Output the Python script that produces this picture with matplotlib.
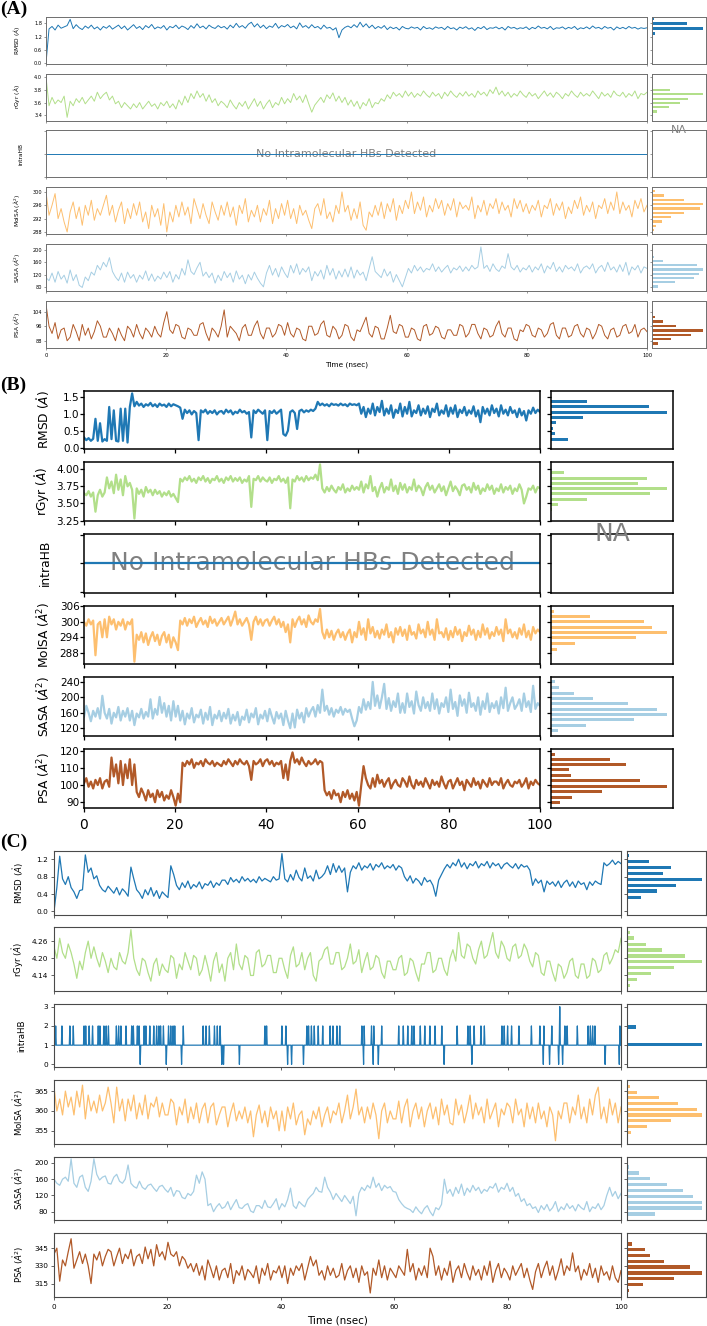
import matplotlib.pyplot as plt
import numpy as np

# ---------------- panel (A) ----------------
a_rmsd = [
    0.0, 1.55, 1.66, 1.5, 1.72, 1.58, 1.64, 1.7, 1.98, 1.56,
    1.74, 1.6, 1.52, 1.68, 1.58, 1.72, 1.55, 1.64, 1.5, 1.66,
    1.58, 1.7, 1.54, 1.63, 1.72, 1.56, 1.68, 1.5, 1.62, 1.74,
    1.57, 1.66, 1.52, 1.7, 1.6, 1.75, 1.55, 1.64, 1.58, 1.7,
    1.5, 1.66, 1.6, 1.72, 1.56, 1.68, 1.62, 1.52, 1.7, 1.58,
    1.78, 1.6, 1.68, 1.55, 1.72, 1.62, 1.57, 1.7, 1.6, 1.66,
    1.54, 1.72, 1.6, 1.8, 1.62, 1.7, 1.58, 1.76, 1.85, 1.64,
    1.78, 1.6, 1.72, 1.56, 1.68, 1.62, 1.8, 1.58, 1.7, 1.64,
    1.75, 1.6, 1.68, 1.55, 1.82, 1.62, 1.7, 1.58, 1.74, 1.6,
    1.66, 1.54, 1.72, 1.58, 1.62, 1.5, 1.6, 1.15, 1.5, 1.62,
    1.68, 1.6, 1.74, 1.62, 1.85, 1.64, 1.78, 1.6, 1.72, 1.56,
    1.66, 1.58, 1.7, 1.52, 1.64, 1.56, 1.62, 1.5, 1.66, 1.58,
    1.55, 1.64, 1.58, 1.62, 1.5, 1.66, 1.56, 1.6, 1.53, 1.64,
    1.58, 1.62, 1.52, 1.66, 1.56, 1.6, 1.5, 1.63, 1.57, 1.65,
    1.54, 1.6, 1.48, 1.62, 1.56, 1.66, 1.52, 1.6, 1.58, 1.64,
    1.55, 1.62, 1.5, 1.66, 1.58, 1.62, 1.54, 1.6, 1.57, 1.64,
    1.52, 1.62, 1.56, 1.68, 1.58, 1.62, 1.55, 1.66, 1.52, 1.6,
    1.58, 1.64, 1.54, 1.62, 1.57, 1.66, 1.52, 1.6, 1.56, 1.64,
    1.55, 1.68, 1.58, 1.62, 1.54, 1.66, 1.58, 1.62, 1.5, 1.64,
    1.56, 1.62, 1.55, 1.66, 1.58, 1.62, 1.54, 1.6, 1.57, 1.6,
]
a_rgyr = [
    4.0, 3.55, 3.68, 3.58, 3.64, 3.6, 3.7, 3.37, 3.62, 3.55,
    3.66, 3.6, 3.68, 3.58, 3.64, 3.7, 3.62, 3.76, 3.66, 3.72,
    3.76, 3.64, 3.7, 3.58, 3.62, 3.52, 3.6, 3.55, 3.5, 3.58,
    3.52, 3.6, 3.5, 3.56, 3.62, 3.54, 3.58, 3.5, 3.6, 3.55,
    3.62, 3.52, 3.58, 3.5, 3.64, 3.56, 3.7, 3.6, 3.74, 3.66,
    3.78, 3.68, 3.74, 3.62, 3.72, 3.6, 3.66, 3.55, 3.62, 3.58,
    3.52, 3.64, 3.56, 3.5, 3.6, 3.54, 3.62, 3.5, 3.58, 3.66,
    3.54, 3.62, 3.5, 3.58, 3.64, 3.52, 3.6, 3.56, 3.68, 3.58,
    3.66, 3.6, 3.74, 3.64, 3.7, 3.6, 3.72, 3.58, 3.45, 3.56,
    3.62, 3.68, 3.6, 3.72, 3.66, 3.75, 3.62, 3.7, 3.6, 3.68,
    3.56, 3.64, 3.54, 3.62, 3.5, 3.6, 3.55, 3.66, 3.52, 3.6,
    3.58, 3.66, 3.62, 3.72, 3.66, 3.76, 3.7, 3.74, 3.68, 3.78,
    3.7, 3.76, 3.68, 3.74, 3.7, 3.78, 3.72, 3.68, 3.76, 3.7,
    3.74, 3.66, 3.76, 3.7, 3.78, 3.72, 3.68, 3.75, 3.7, 3.77,
    3.7, 3.74, 3.68, 3.78, 3.72, 3.76, 3.7, 3.8, 3.74, 3.84,
    3.72, 3.78, 3.7, 3.76, 3.68, 3.74, 3.7, 3.78, 3.72, 3.68,
    3.76, 3.7, 3.74, 3.66, 3.72, 3.78, 3.7, 3.75, 3.68, 3.76,
    3.72, 3.66, 3.74, 3.7, 3.78, 3.72, 3.68, 3.76, 3.7, 3.74,
    3.7, 3.78, 3.72, 3.66, 3.76, 3.7, 3.74, 3.68, 3.78, 3.72,
    3.7, 3.76, 3.68, 3.74, 3.7, 3.78, 3.66, 3.74, 3.72, 3.76,
]
a_intrahb = [0, 0]
a_molsa = [
    300, 293, 296, 299.5, 292, 295, 291, 288, 294, 297,
    292, 295.5, 290, 296, 293, 297.5, 291.5, 295, 293, 296,
    299, 293, 296, 291, 294.5, 297, 290.5, 295, 292, 296.5,
    293, 297, 291, 294, 289, 296, 292.5, 295, 290, 296.5,
    288, 294, 291, 296, 292.5, 297, 293, 295.5, 290.5, 298,
    295, 292, 296.5, 293, 290.5, 297, 294, 291.5, 296, 293,
    297, 292.5, 295.5, 290, 296, 293.5, 298, 291, 294.5, 292.5,
    296, 291, 295, 293, 297.5, 290.5, 295, 292, 296.5, 293,
    297.5, 292, 295, 290.5, 296, 293, 294.5, 291.5, 289, 295,
    296.5, 293, 298, 292, 294, 291, 296, 293.5, 300, 294,
    296, 291.5, 295, 292, 297, 290, 288.5, 294, 292.5, 296,
    293, 297, 292, 296.5, 294, 298, 291.5, 296, 293.5, 297.5,
    295, 300, 293.5, 297, 294.5, 298.5, 292.5, 296, 294, 298,
    295, 297.5, 293, 296.5, 294.5, 298, 292.5, 297, 295, 296,
    294.5, 298.5, 292, 296, 294, 297.5, 293, 296.5, 295, 298,
    293.5, 297, 294.5, 296, 292.5, 298, 295, 297.5, 294, 296.5,
    293.5, 296, 294.5, 297.5, 292.5, 296, 295, 298, 293, 296.5,
    294.5, 297, 292, 295.5, 293.5, 297.5, 295, 298.5, 293, 296,
    294, 297, 292, 296, 295, 298, 293.5, 297, 294.5, 300,
    293.5, 297, 294.5, 296, 292.5, 297.5, 295, 298, 294, 296,
]
a_sasa = [
    110, 100, 125, 95, 130, 105, 118, 92, 135, 100,
    120, 85, 78, 112, 100, 128, 118, 150, 135, 160,
    145, 175, 130, 112, 100, 125, 95, 128, 108, 120,
    95, 118, 105, 132, 100, 122, 98, 115, 105, 128,
    110, 130, 95, 120, 105, 140, 118, 168, 130, 120,
    142, 160, 115, 128, 110, 125, 92, 118, 100, 130,
    110, 125, 95, 132, 105, 118, 90, 120, 102, 128,
    108, 92, 80, 125, 150, 118, 140, 112, 145, 125,
    110, 150, 125, 155, 120, 140, 128, 145, 100, 130,
    115, 135, 105, 150, 118, 140, 105, 132, 112, 138,
    112, 145, 108, 135, 118, 128, 100, 140, 178, 130,
    120, 110, 138, 115, 130, 95, 120, 100, 80, 110,
    140, 125, 150, 132, 145, 128, 140, 135, 155, 130,
    145, 128, 140, 150, 125, 142, 135, 148, 130, 145,
    132, 150, 138, 145, 210, 140, 150, 130, 155, 138,
    130, 148, 140, 188, 145, 135, 150, 128, 142, 135,
    150, 128, 145, 135, 155, 125, 148, 138, 160, 130,
    145, 128, 150, 138, 145, 132, 155, 125, 142, 148,
    138, 155, 125, 142, 150, 130, 160, 135, 145, 128,
    152, 130, 160, 118, 145, 135, 150, 125, 145, 140,
]
a_psa = [
    108, 96, 92, 98, 89, 94, 95, 88, 90, 97,
    93, 88, 97, 91, 95, 89, 93, 99, 96, 90,
    90, 95, 92, 88, 95, 91, 88, 96, 94, 90,
    97, 92, 89, 95, 93, 90, 96, 92, 90, 98,
    104, 94, 92, 97, 96, 90, 89, 95, 94, 91,
    91, 97, 98, 92, 88, 95, 93, 90, 96, 105,
    90, 96, 94, 92, 88, 95, 97, 91, 91, 96,
    99, 92, 89, 95, 95, 90, 92, 97, 96, 91,
    98, 92, 90, 95, 94, 89, 88, 96, 96, 91,
    92, 97, 99, 91, 90, 96, 94, 89, 91, 97,
    96, 90, 88, 94, 93, 97, 101, 92, 90, 96,
    95, 89, 89, 95, 102, 93, 92, 97, 96, 90,
    90, 95, 94, 89, 88, 96, 97, 91, 92, 96,
    95, 90, 89, 94, 94, 91, 91, 97, 96, 90,
    92, 97, 97, 92, 89, 95, 94, 90, 91, 96,
    99, 92, 90, 95, 95, 89, 88, 94, 93, 97,
    96, 91, 90, 95, 94, 90, 92, 97, 98, 91,
    89, 95, 95, 90, 91, 96, 97, 92, 90, 95,
    94, 89, 92, 97, 96, 91, 89, 94, 95, 90,
    91, 96, 97, 92, 93, 97, 90, 94, 95, 93,
]
a_rmsd_bins = [1.33, 1.56, 1.79, 2.0]
a_rmsd_counts = [8, 155, 105, 5]
a_rgyr_bins = [3.46, 3.526, 3.592, 3.657, 3.728, 3.793]
a_rgyr_counts = [15, 50, 85, 110, 155, 55]
a_molsa_bins = [288.5, 289.8, 291.1, 292.4, 293.7, 295.0, 296.3, 297.6, 298.9, 300.2]
a_molsa_counts = [5, 13, 30, 57, 95, 145, 155, 97, 37, 10]
a_sasa_bins = [81.1, 94.9, 108.7, 122.5, 136.3, 150.1, 163.9, 177.7]
a_sasa_counts = [18, 69, 127, 143, 155, 137, 33, 5]
a_psa_bins = [86.5, 88.9, 91.3, 93.7, 96.1, 98.5, 101.1, 103.6]
a_psa_counts = [17, 57, 117, 155, 73, 33, 10, 3]

# ---------------- panel (B) ----------------
b_rmsd = [
    0.3, 0.22, 0.28, 0.2, 0.26, 0.85, 0.2, 0.72, 0.18, 0.25,
    0.2, 1.2, 0.25, 1.1, 0.2, 0.18, 1.15, 0.2, 1.15, 0.15,
    1.2, 1.6, 1.22, 1.35, 1.24, 1.3, 1.2, 1.28, 1.24, 1.32,
    1.22, 1.28, 1.2, 1.3, 1.24, 1.27, 1.2, 1.3, 1.22, 1.28,
    1.25, 1.22, 1.18, 0.85, 1.12, 1.02, 1.1, 0.98, 1.08, 1.02,
    0.22, 1.1, 1.04, 1.12, 1.0, 1.08, 1.02, 1.1, 0.98, 1.06,
    1.08, 1.0, 1.12, 1.04, 1.1, 0.98, 1.06, 1.02, 1.12, 1.04,
    1.08, 1.0, 1.05, 0.3, 1.1, 1.02, 1.12, 1.06, 1.0, 1.1,
    0.22, 1.08, 1.02, 1.1, 1.0, 1.06, 1.12, 0.4, 0.35, 0.5,
    1.05, 1.1, 1.02, 0.55, 1.08, 1.12, 1.04, 1.1, 1.06, 1.12,
    1.08, 1.15, 1.35, 1.25, 1.3, 1.24, 1.28, 1.22, 1.3, 1.26,
    1.28, 1.24, 1.3, 1.25, 1.28, 1.22, 1.3, 1.26, 1.28, 1.25,
    1.3, 1.0, 1.2, 0.9, 1.15, 1.0, 1.3, 0.95, 1.2, 1.05,
    1.38, 0.95, 1.15, 1.0, 1.25, 0.88, 1.12, 1.02, 1.3, 0.92,
    1.2, 1.0, 1.35, 0.92, 1.1, 1.02, 1.25, 0.95, 1.15, 1.0,
    1.22, 0.9, 1.15, 1.05, 1.3, 0.95, 1.1, 1.0, 1.25, 0.92,
    1.18, 1.0, 1.25, 0.9, 1.12, 1.02, 1.2, 0.95, 1.1, 1.0,
    1.22, 0.92, 1.1, 0.75, 1.2, 1.0, 1.15, 0.95, 1.25, 1.02,
    1.15, 0.92, 1.25, 1.0, 1.12, 0.95, 1.2, 1.02, 1.1, 0.9,
    1.15, 0.95, 1.08, 0.8, 1.1, 1.0, 1.18, 1.02, 1.12, 1.05,
]
b_rgyr = [
    3.65, 3.62, 3.68, 3.6, 3.66, 3.38, 3.62, 3.7, 3.6, 3.66,
    3.88, 3.72, 3.82, 3.65, 3.92, 3.7, 3.85, 3.62, 3.9, 3.75,
    3.8, 3.7, 3.28, 3.72, 3.64, 3.7, 3.6, 3.74, 3.66, 3.7,
    3.62, 3.7, 3.64, 3.68, 3.6, 3.66, 3.62, 3.68, 3.6, 3.64,
    3.58, 3.52, 3.86, 3.82, 3.88, 3.84, 3.9, 3.82, 3.86, 3.8,
    3.88, 3.84, 3.9, 3.82, 3.87, 3.8, 3.86, 3.84, 3.9, 3.82,
    3.86, 3.8, 3.88, 3.84, 3.9, 3.82, 3.87, 3.83, 3.88, 3.8,
    3.85, 3.82, 3.9, 3.45, 3.86, 3.84, 3.9, 3.82, 3.88, 3.84,
    3.82, 3.88, 3.8, 3.86, 3.84, 3.9, 3.82, 3.86, 3.8, 3.88,
    3.43, 3.85, 3.82, 3.9, 3.84, 3.88, 3.82, 3.9, 3.84, 3.88,
    3.86, 3.92, 3.84, 4.07, 3.72, 3.66, 3.74, 3.68, 3.76, 3.7,
    3.66, 3.74, 3.7, 3.78, 3.66, 3.72, 3.68, 3.76, 3.7, 3.74,
    3.7, 3.82, 3.66, 3.78, 3.72, 3.9, 3.68, 3.74, 3.6, 3.72,
    3.8, 3.66, 3.74, 3.7, 3.85, 3.68, 3.76, 3.64, 3.8, 3.7,
    3.78, 3.66, 3.74, 3.7, 3.85, 3.68, 3.76, 3.72, 3.62, 3.74,
    3.8, 3.7, 3.76, 3.66, 3.72, 3.78, 3.68, 3.75, 3.62, 3.72,
    3.82, 3.68, 3.75, 3.7, 3.62, 3.76, 3.78, 3.7, 3.74, 3.66,
    3.8, 3.7, 3.76, 3.64, 3.72, 3.68, 3.78, 3.7, 3.76, 3.64,
    3.72, 3.68, 3.78, 3.66, 3.74, 3.7, 3.76, 3.64, 3.72, 3.68,
    3.78, 3.7, 3.5, 3.6, 3.72, 3.7, 3.76, 3.66, 3.74, 3.72,
]
b_intrahb = [0, 0]
b_molsa = [
    300, 298.5, 301, 299, 300.5, 287, 299, 300, 294, 301,
    294, 302, 299, 301, 297, 300, 298.5, 301, 297, 300,
    299, 301, 284.5, 295, 293, 296, 292, 295.5, 291, 294,
    296, 292.5, 295, 291, 294.5, 296, 292, 295, 290, 294,
    292, 289, 300.5, 299, 301.5, 298.5, 301, 299.5, 302, 298,
    300, 301.5, 299, 300.5, 298, 302, 299.5, 301, 298.5, 300,
    301.5, 299, 300.5, 302, 298.5, 301, 304, 299, 301, 298.5,
    300, 301.5, 299, 293, 300, 302, 299, 301, 298.5, 300.5,
    301, 298.5, 300.5, 302, 299, 301, 298, 300, 296, 299,
    292, 301, 298, 300.5, 302, 299, 301, 298, 302.5, 300,
    299, 301, 300, 305, 296, 293.5, 297, 294, 296.5, 293,
    295.5, 297, 294, 296, 293, 295.5, 297, 292, 296, 294,
    300, 295, 297.5, 293, 301, 295.5, 298, 294, 296.5, 293.5,
    297, 295, 299, 294, 296, 292, 297.5, 295, 298, 294.5,
    297, 293, 298.5, 295, 296, 293.5, 299, 295.5, 297, 294,
    300, 295, 297, 293, 301, 295.5, 296, 294, 297.5, 293,
    296.5, 294, 298, 295, 297, 292.5, 296, 294.5, 298.5, 295,
    297, 293, 296.5, 294, 299, 295, 297.5, 293.5, 296, 294.5,
    298, 295, 297, 292.5, 301, 295.5, 297, 294, 296, 293.5,
    297.5, 295, 299, 294, 296.5, 293, 298, 295.5, 297, 296,
]
b_sasa = [
    150, 178, 160, 138, 165, 150, 172, 145, 204, 160,
    145, 170, 132, 160, 148, 175, 140, 165, 150, 172,
    140, 165, 128, 158, 148, 170, 145, 162, 150, 195,
    145, 170, 155, 201, 160, 185, 150, 178, 140, 190,
    150, 178, 140, 165, 130, 158, 145, 172, 135, 155,
    148, 168, 132, 160, 142, 175, 128, 155, 145, 165,
    138, 160, 145, 170, 132, 155, 140, 162, 128, 150,
    142, 168, 135, 158, 148, 172, 130, 155, 145, 165,
    138, 170, 150, 132, 162, 145, 158, 128, 165, 140,
    120, 158, 122, 168, 145, 160, 135, 172, 150, 165,
    175, 150, 180, 160, 220, 165, 178, 155, 172, 150,
    168, 160, 175, 155, 170, 162, 168, 145, 125, 140,
    175, 160, 195, 168, 188, 170, 240, 178, 205, 172,
    200, 235, 170, 198, 165, 190, 175, 210, 160, 185,
    160, 210, 175, 190, 158, 215, 180, 165, 200, 172,
    188, 165, 210, 170, 195, 158, 185, 175, 200, 162,
    220, 170, 188, 152, 205, 178, 195, 160, 212, 175,
    185, 165, 200, 155, 190, 170, 210, 162, 185, 172,
    190, 158, 200, 172, 225, 165, 185, 200, 170, 180,
    195, 165, 210, 175, 190, 162, 230, 170, 185, 178,
]
b_psa = [
    101, 104, 99, 102, 98, 103, 100, 104, 98, 102,
    103, 99, 116, 105, 112, 101, 114, 100, 112, 104,
    115, 100, 112, 96, 93, 98, 95, 91, 97, 93,
    95, 90, 97, 93, 96, 91, 94, 92, 97, 93,
    88, 95, 90, 113, 111, 114, 112, 115, 110, 113,
    112, 114, 111, 115, 113, 112, 114, 111, 113, 112,
    111, 114, 112, 115, 113, 111, 114, 112, 115, 113,
    112, 114, 111, 103, 114, 112, 113, 115, 111, 114,
    115, 112, 114, 111, 113, 112, 114, 104, 112, 103,
    114, 119, 113, 115, 112, 116, 113, 111, 114, 112,
    113, 115, 112, 114, 113, 97, 94, 96, 92, 97,
    94, 95, 90, 96, 93, 97, 92, 95, 91, 96,
    88, 100, 111, 104, 100, 98, 104, 99, 106, 101,
    103, 99, 102, 104, 98, 101, 103, 100, 99, 104,
    102, 99, 105, 100, 98, 103, 100, 102, 99, 104,
    101, 98, 103, 100, 102, 99, 105, 101, 98, 102,
    103, 98, 101, 104, 100, 102, 97, 103, 101, 99,
    104, 100, 102, 98, 103, 101, 99, 104, 100, 102,
    102, 100, 104, 98, 101, 103, 100, 99, 102, 101,
    103, 99, 101, 104, 98, 102, 100, 103, 101, 100,
]
b_rmsd_bins = [0.247, 0.415, 0.572, 0.73, 0.888, 1.046, 1.224, 1.372]
b_rmsd_counts = [51, 13, 6, 16, 97, 349, 293, 108]
b_rgyr_bins = [3.407, 3.483, 3.563, 3.639, 3.715, 3.791, 3.867, 3.948]
b_rgyr_counts = [2, 20, 108, 296, 349, 261, 288, 40]
b_molsa_bins = [289.4, 291.6, 293.8, 295.85, 297.9, 299.96, 302.0, 304.07]
b_molsa_counts = [18, 71, 255, 349, 304, 278, 118, 10]
b_sasa_bins = [113.1, 127.7, 142.3, 156.0, 169.7, 183.4, 197.1, 210.9, 225.4, 240.0]
b_sasa_counts = [21, 106, 249, 349, 317, 231, 126, 70, 25, 13]
b_psa_bins = [89.6, 92.7, 96.1, 99.2, 102.4, 105.7, 108.8, 112.0, 115.1, 118.0]
b_psa_counts = [26, 62, 153, 349, 267, 61, 54, 224, 176, 13]

# ---------------- panel (C) ----------------
c_rmsd = [
    0.0, 0.55, 1.27, 0.75, 0.62, 0.8, 0.55, 0.45, 0.3, 0.48,
    0.5, 1.3, 0.9, 1.0, 0.75, 0.82, 0.6, 0.5, 0.45, 0.58,
    0.5, 0.42, 0.55, 0.38, 0.52, 0.45, 0.35, 1.02, 0.75, 0.5,
    0.42, 0.3, 0.5, 0.38, 0.55, 0.35, 0.48, 0.3, 0.45, 0.38,
    0.32, 1.05, 0.85, 0.6, 0.5, 0.66, 0.55, 0.7, 0.52, 0.62,
    0.56, 0.68, 0.52, 0.64, 0.6, 0.7, 0.55, 0.66, 0.6, 0.72,
    0.72, 0.62, 0.78, 0.68, 0.74, 0.66, 0.8, 0.7, 0.76, 0.68,
    0.74, 0.66, 0.8, 0.7, 0.76, 0.72, 0.68, 0.8, 0.72, 0.75,
    1.33, 0.75, 0.68, 0.85, 0.72, 0.95, 0.78, 0.7, 1.0, 0.76,
    0.82, 0.7, 0.95, 0.75, 0.8, 0.88, 1.05, 0.85, 1.1, 0.9,
    1.05, 0.9, 1.0, 0.45, 0.9, 1.05, 0.98, 1.12, 0.95, 1.05,
    1.0, 1.1, 0.95, 1.08, 1.02, 1.12, 0.98, 1.05, 1.0, 1.08,
    0.95, 1.05, 1.0, 0.8, 0.7, 0.82, 0.65, 0.76, 0.7, 0.6,
    0.78, 0.68, 0.72, 0.6, 0.35, 0.72, 0.85, 0.98, 1.08, 1.0,
    1.12, 1.05, 1.2, 1.02, 1.12, 0.98, 1.1, 1.05, 1.15, 1.0,
    1.1, 1.05, 1.15, 1.0, 1.12, 1.05, 1.1, 0.98, 1.08, 1.12,
    1.05, 1.0, 1.1, 0.98, 1.08, 1.02, 1.05, 0.95, 0.6, 0.75,
    0.65, 0.72, 0.45, 0.7, 0.62, 0.68, 0.58, 0.7, 0.55, 0.66,
    0.72, 0.58, 0.68, 0.55, 0.7, 0.62, 0.66, 0.5, 0.68, 0.6,
    0.7, 0.65, 0.62, 1.12, 1.05, 1.1, 1.18, 1.08, 1.15, 1.1,
]
c_rgyr = [
    4.24, 4.2, 4.27, 4.22, 4.2, 4.25, 4.22, 4.18, 4.13, 4.19,
    4.16, 4.22, 4.26, 4.2, 4.24, 4.2, 4.17, 4.22, 4.19, 4.15,
    4.2, 4.17, 4.16, 4.22, 4.19, 4.18, 4.22, 4.3, 4.2, 4.16,
    4.14, 4.2, 4.19, 4.15, 4.12, 4.18, 4.2, 4.14, 4.18, 4.16,
    4.15, 4.21, 4.2, 4.13, 4.18, 4.16, 4.22, 4.19, 4.16, 4.21,
    4.2, 4.14, 4.16, 4.21, 4.17, 4.12, 4.19, 4.22, 4.15, 4.18,
    4.12, 4.2, 4.22, 4.16, 4.25, 4.18, 4.16, 4.21, 4.2, 4.14,
    4.14, 4.22, 4.23, 4.17, 4.18, 4.21, 4.21, 4.15, 4.15, 4.2,
    4.2, 4.16, 4.13, 4.21, 4.24, 4.17, 4.18, 4.22, 4.16, 4.2,
    4.22, 4.14, 4.12, 4.19, 4.2, 4.23, 4.24, 4.18, 4.18, 4.22,
    4.22, 4.16, 4.17, 4.2, 4.25, 4.18, 4.19, 4.23, 4.15, 4.19,
    4.22, 4.16, 4.17, 4.21, 4.2, 4.15, 4.13, 4.19, 4.19, 4.16,
    4.16, 4.2, 4.21, 4.14, 4.15, 4.2, 4.19, 4.15, 4.12, 4.18,
    4.18, 4.22, 4.22, 4.15, 4.16, 4.2, 4.2, 4.16, 4.14, 4.2,
    4.23, 4.19, 4.29, 4.21, 4.2, 4.25, 4.24, 4.2, 4.18, 4.23,
    4.26, 4.2, 4.21, 4.25, 4.29, 4.22, 4.2, 4.26, 4.24, 4.2,
    4.19, 4.24, 4.25, 4.2, 4.21, 4.25, 4.23, 4.19, 4.17, 4.22,
    4.21, 4.15, 4.14, 4.19, 4.19, 4.15, 4.12, 4.18, 4.17, 4.13,
    4.15, 4.19, 4.2, 4.14, 4.13, 4.18, 4.18, 4.13, 4.14, 4.2,
    4.19, 4.15, 4.16, 4.21, 4.22, 4.18, 4.2, 4.23, 4.22, 4.27,
]
# intramolecular H-bond count: 1 most of the time, with these excursions (ns)
c_hb_base = 1
c_hb_two = [
    0.0, 0.3, 1.35, 2.82, 3.41, 5.29, 5.64, 6.23, 6.82, 7.82, 8.11, 8.82,
    9.17, 9.58, 11.05, 11.35, 11.76, 12.7, 13.7, 14.0, 14.7, 15.0, 15.87,
    16.22, 16.93, 17.64, 18.11, 18.52, 18.81, 19.28, 20.16, 20.58, 21.05,
    21.34, 22.81, 26.34, 26.81, 27.4, 28.28, 28.81, 29.28, 37.22, 37.51,
    40.16, 40.86, 44.56, 44.86, 45.45, 45.86, 46.62, 47.39, 48.68, 49.15,
    49.86, 50.44, 54.26, 54.67, 56.03, 56.44, 57.79, 60.85, 61.61, 62.38,
    63.08, 63.49, 64.55, 65.43, 66.31, 67.2, 68.37, 71.13, 72.96, 73.37,
    74.07, 75.31, 75.89, 78.95, 79.42, 79.95, 80.72, 82.01, 84.25, 85.72,
    86.42, 87.77, 90.12, 90.53, 92.3, 94.24, 94.65, 95.0, 95.41, 99.82,
]
c_hb_zero = [
    15.17, 19.75, 22.52, 29.57, 29.87, 32.69, 41.15, 41.92, 43.98, 54.55,
    56.32, 57.2, 68.78, 73.66, 86.3, 87.36, 88.95, 89.71, 97.18, 99.7,
]
c_hb_three = [89.24]
c_molsa = [
    366, 360, 363, 359, 365, 361, 363.5, 359, 365, 361,
    366.5, 358, 364, 360, 362.5, 359.5, 364, 360, 362, 366,
    362, 357, 366, 360, 363, 357.5, 363, 360, 364, 358,
    362, 359, 364, 358, 362, 361, 363.5, 358.5, 362, 359,
    359, 363, 362, 356.5, 361, 359, 363, 357, 361, 358,
    362, 357, 360.5, 362, 357, 361, 362, 356.5, 359, 361,
    361, 356, 359.5, 362, 357.5, 360, 358, 361, 357, 360,
    353.5, 359, 361.5, 357, 360, 356, 361, 358, 360, 355,
    360, 355, 361, 358, 362, 356.5, 359, 360, 354, 358,
    356.5, 360, 358, 361, 356, 359, 361, 357, 360, 359,
    362, 357, 360, 364, 358, 361, 365.5, 359, 361, 357,
    361, 358, 362, 359, 353, 360, 362, 357, 360, 358,
    358, 362.5, 357, 361, 363, 356, 360, 362, 358, 361,
    356, 360, 362, 358, 361, 356.5, 363, 359, 361.5, 357,
    356.5, 363, 359, 361.5, 357, 360, 364, 358, 362, 359,
    361, 357, 363, 358, 360, 362, 356, 360.5, 359, 362,
    361, 357, 363, 359, 360.5, 356, 362, 358, 361, 357,
    362, 358, 360, 356, 361, 359, 352.5, 360, 358, 362,
    362, 357, 361, 359, 364, 358, 361, 357, 363, 359,
    364, 366, 358, 361, 357, 363, 359, 362, 357, 361,
]
c_sasa = [
    160, 150, 145, 160, 165, 155, 210, 150, 140, 165,
    170, 140, 130, 155, 210, 172, 158, 165, 168, 150,
    148, 165, 172, 155, 150, 160, 195, 150, 142, 138,
    155, 140, 135, 145, 148, 138, 130, 142, 145, 135,
    128, 140, 118, 132, 130, 115, 112, 125, 120, 130,
    170, 150, 178, 160, 95, 100, 80, 92, 100, 88,
    92, 105, 85, 98, 110, 90, 88, 96, 100, 82,
    78, 95, 95, 88, 108, 92, 90, 100, 112, 85,
    100, 92, 110, 138, 95, 88, 105, 98, 92, 110,
    118, 125, 140, 130, 128, 165, 140, 128, 110, 125,
    115, 105, 120, 110, 100, 118, 70, 125, 140, 132,
    145, 138, 165, 140, 150, 132, 145, 138, 142, 130,
    128, 110, 100, 92, 88, 85, 78, 92, 82, 75,
    88, 95, 80, 70, 90, 85, 98, 160, 125, 135,
    118, 140, 125, 148, 120, 138, 128, 145, 132, 140,
    125, 135, 130, 142, 138, 150, 128, 140, 135, 150,
    130, 140, 118, 125, 105, 112, 95, 100, 88, 92,
    78, 95, 85, 98, 82, 90, 105, 80, 92, 85,
    100, 88, 95, 82, 98, 90, 85, 105, 80, 92,
    88, 100, 85, 95, 120, 140, 118, 130, 112, 125,
]
c_psa = [
    340, 345, 317, 335, 330, 342, 353, 328, 335, 342,
    332, 340, 330, 315, 340, 335, 342, 330, 338, 344,
    342, 330, 338, 345, 332, 340, 336, 344, 330, 338,
    340, 332, 346, 336, 344, 330, 348, 338, 342, 335,
    350, 340, 338, 342, 330, 338, 335, 328, 332, 325,
    332, 322, 330, 318, 335, 328, 320, 330, 318, 326,
    328, 320, 332, 315, 326, 322, 330, 318, 327, 324,
    320, 330, 315, 328, 322, 332, 318, 326, 324, 330,
    320, 330, 315, 328, 322, 330, 326, 332, 318, 328,
    338, 330, 335, 322, 326, 318, 330, 322, 328, 320,
    322, 332, 318, 326, 330, 320, 328, 316, 330, 322,
    325, 307, 328, 322, 335, 320, 330, 318, 328, 324,
    320, 330, 326, 322, 344, 325, 332, 318, 328, 322,
    330, 320, 345, 338, 322, 330, 318, 328, 322, 334,
    316, 326, 330, 320, 332, 324, 318, 330, 322, 327,
    318, 330, 322, 334, 316, 326, 332, 320, 328, 324,
    318, 330, 322, 327, 332, 320, 328, 318, 310, 325,
    332, 320, 328, 334, 322, 330, 318, 326, 336, 322,
    330, 326, 341, 325, 330, 318, 327, 322, 332, 320,
    328, 316, 330, 322, 325, 318, 330, 320, 316, 326,
]
c_rmsd_bins = [0.329, 0.471, 0.604, 0.737, 0.878, 1.012, 1.145, 1.278]
c_rmsd_counts = [43, 91, 148, 225, 108, 133, 66, 6]
c_rgyr_bins = [4.106, 4.126, 4.147, 4.168, 4.188, 4.208, 4.229, 4.249, 4.271, 4.291]
c_rgyr_counts = [9, 31, 71, 141, 225, 173, 106, 58, 20, 8]
c_hb_bins = [0.15, 1.05, 1.95, 2.85]
c_hb_counts = [4, 225, 28, 1]
c_molsa_bins = [353.17, 354.67, 356.08, 357.5, 359.0, 360.33, 361.83, 363.33, 364.75, 366.25]
c_molsa_counts = [4, 13, 60, 133, 225, 208, 154, 95, 31, 10]
c_sasa_bins = [74.2, 89.1, 103.1, 117.2, 132.1, 146.2, 161.1, 175.2, 190.1, 204.1]
c_sasa_counts = [83, 223, 225, 196, 168, 121, 68, 35, 5, 4]
c_psa_bins = [309.4, 314.2, 319.2, 324.0, 329.0, 333.8, 338.8, 343.6, 348.6, 353.4]
c_psa_counts = [7, 49, 142, 225, 188, 110, 68, 54, 15, 4]

# ColorBrewer "Paired" colours used for the properties
COL_RMSD = '#1f78b4'
COL_RGYR = '#b2df8a'
COL_MOLSA = '#fdbf6f'
COL_SASA = '#a6cee3'
COL_PSA = '#b15928'

W, H = 707, 1326
fig = plt.figure(figsize=(W / 100, H / 100), dpi=100)

L_RMSD = r'RMSD ($\mathring{A}$)'
L_RGYR = r'rGyr ($\mathring{A}$)'
L_MOLSA = r'MolSA ($\mathring{A}^2$)'
L_SASA = r'SASA ($\mathring{A}^2$)'
L_PSA = r'PSA ($\mathring{A}^2$)'


def rect(left, top, width, height):
    # pixel box (from top-left) -> figure fraction
    return [left / W, 1 - (top + height) / H, width / W, height / H]


def draw_panel(rows, top, pitch, height, main_x, hist_x, st):
    n = len(rows)
    for k, r in enumerate(rows):
        y0 = top + k * pitch
        ax = fig.add_axes(rect(main_x[0], y0, main_x[1] - main_x[0], height))
        axh = fig.add_axes(rect(hist_x[0], y0, hist_x[1] - hist_x[0], height), sharey=ax)

        y = np.asarray(r['y'], dtype=float)
        t = r.get('t')
        if t is None:
            t = np.linspace(0, 100, len(y))
        ax.plot(t, y, color=r['color'], lw=st['lw'], zorder=2)

        if r.get('bins') is not None:
            bins = np.asarray(r['bins'], dtype=float)
            bar_h = r.get('bar_h', 0.55 * np.diff(bins).mean())
            axh.barh(bins, r['counts'], height=bar_h, color=r['color'])
        else:
            axh.set_xlim(0, 1)
            axh.text(0.5, 1.0, 'NA', transform=axh.transAxes, ha='center',
                     va='center', color='gray', fontsize=st['note'])
            ax.text(0.5, 0.5, 'No Intramolecular HBs Detected', transform=ax.transAxes,
                    ha='center', va='center', color='gray', fontsize=st['note'], zorder=1)

        ax.set_xlim(0, 100)
        ax.set_xticks([0, 20, 40, 60, 80, 100])
        ax.set_yticks(r['yticks'])
        if r.get('nolabels'):
            ax.set_yticklabels([])
        ax.set_ylim(r['ylim'])
        ax.set_ylabel(r['label'], fontsize=st['ylab'])
        ax.yaxis.set_label_coords(st['labx'], 0.5)

        ax.tick_params(axis='y', labelsize=st['ytick'], pad=st['ypad'],
                       length=st['ticklen'], width=st['tickw'], color=st['spine'])
        ax.tick_params(axis='x', labelsize=st['xtick'], pad=st['xpad'],
                       length=st['ticklen'], width=st['tickw'], color=st['spine'],
                       labelbottom=(k == n - 1))
        axh.set_xticks([])
        axh.tick_params(axis='y', labelleft=False, length=st['ticklen'],
                        width=st['tickw'], color=st['spine'])
        for a in (ax, axh):
            for s in a.spines.values():
                s.set_color(st['spine'])
                s.set_linewidth(st['spine_w'])

        if k == n - 1 and st.get('xlab'):
            ax.set_xlabel('Time (nsec)', fontsize=st['xlab'])
            ax.xaxis.set_label_coords(0.5, -st['xlab_off'] / height)


rows_a = [
    dict(y=a_rmsd, color=COL_RMSD, label=L_RMSD, ylim=(-0.02, 2.1),
         yticks=[0.0, 0.6, 1.2, 1.8], bins=a_rmsd_bins, counts=a_rmsd_counts),
    dict(y=a_rgyr, color=COL_RGYR, label=L_RGYR, ylim=(3.32, 4.05),
         yticks=[3.4, 3.6, 3.8, 4.0], bins=a_rgyr_bins, counts=a_rgyr_counts),
    dict(y=a_intrahb, color=COL_RMSD, label='intraHB', ylim=(-1.03, 1.03),
         yticks=[-1, 0, 1], nolabels=True),
    dict(y=a_molsa, color=COL_MOLSA, label=L_MOLSA, ylim=(287.3, 301.4),
         yticks=[288, 292, 296, 300], bins=a_molsa_bins, counts=a_molsa_counts),
    dict(y=a_sasa, color=COL_SASA, label=L_SASA, ylim=(66, 219),
         yticks=[80, 120, 160, 200], bins=a_sasa_bins, counts=a_sasa_counts),
    dict(y=a_psa, color=COL_PSA, label=L_PSA, ylim=(84, 109.9),
         yticks=[88, 96, 104], bins=a_psa_bins, counts=a_psa_counts),
]
style_a = dict(lw=0.7, spine='#6e6e6e', spine_w=0.7, ytick=3.6, xtick=3.8, ylab=4.2,
               xlab=5.3, xlab_off=13.5, note=8, ticklen=1.6, tickw=0.5,
               ypad=1.2, xpad=2.0, labx=-0.038)
draw_panel(rows_a, 16.7, 56.86, 47, (46, 647), (652, 706), style_a)

rows_b = [
    dict(y=b_rmsd, color=COL_RMSD, label=L_RMSD, ylim=(-0.05, 1.68),
         yticks=[0.0, 0.5, 1.0, 1.5], bins=b_rmsd_bins, counts=b_rmsd_counts),
    dict(y=b_rgyr, color=COL_RGYR, label=L_RGYR, ylim=(3.245, 4.10),
         yticks=[3.25, 3.5, 3.75, 4.0], bins=b_rgyr_bins, counts=b_rgyr_counts),
    dict(y=b_intrahb, color=COL_RMSD, label='intraHB', ylim=(-1.03, 1.03),
         yticks=[-1, 0, 1], nolabels=True),
    dict(y=b_molsa, color=COL_MOLSA, label=L_MOLSA, ylim=(283.5, 306.3),
         yticks=[288, 294, 300, 306], bins=b_molsa_bins, counts=b_molsa_counts),
    dict(y=b_sasa, color=COL_SASA, label=L_SASA, ylim=(100, 252),
         yticks=[120, 160, 200, 240], bins=b_sasa_bins, counts=b_sasa_counts),
    dict(y=b_psa, color=COL_PSA, label=L_PSA, ylim=(86.9, 121),
         yticks=[90, 100, 110, 120], bins=b_psa_bins, counts=b_psa_counts),
]
style_b = dict(lw=1.6, spine='black', spine_w=1.1, ytick=7.5, xtick=10, ylab=8.8,
               xlab=None, note=18, ticklen=3.2, tickw=0.9, ypad=0.0, xpad=4.0,
               labx=-0.07)
draw_panel(rows_b, 390.7, 71.65, 58.6, (84, 540), (551, 673), style_b)

# build the H-bond count trace of panel (C) on a 0.1 ns frame grid
c_hb_t = np.linspace(0, 100, 1001)
c_hb = np.full(c_hb_t.size, float(c_hb_base))
c_hb[np.round(np.array(c_hb_two) * 10).astype(int)] = 2
c_hb[np.round(np.array(c_hb_zero) * 10).astype(int)] = 0
c_hb[np.round(np.array(c_hb_three) * 10).astype(int)] = 3

rows_c = [
    dict(y=c_rmsd, color=COL_RMSD, label=L_RMSD, ylim=(-0.07, 1.39),
         yticks=[0.0, 0.4, 0.8, 1.2], bins=c_rmsd_bins, counts=c_rmsd_counts),
    dict(y=c_rgyr, color=COL_RGYR, label=L_RGYR, ylim=(4.086, 4.308),
         yticks=[4.14, 4.20, 4.26], bins=c_rgyr_bins, counts=c_rgyr_counts),
    dict(y=c_hb, t=c_hb_t, color=COL_RMSD, label='intraHB', ylim=(-0.15, 3.15),
         yticks=[0, 1, 2, 3], bins=c_hb_bins, counts=c_hb_counts, bar_h=0.17),
    dict(y=c_molsa, color=COL_MOLSA, label=L_MOLSA, ylim=(351.75, 367.75),
         yticks=[355, 360, 365], bins=c_molsa_bins, counts=c_molsa_counts),
    dict(y=c_sasa, color=COL_SASA, label=L_SASA, ylim=(59.4, 215.6),
         yticks=[80, 120, 160, 200], bins=c_sasa_bins, counts=c_sasa_counts),
    dict(y=c_psa, color=COL_PSA, label=L_PSA, ylim=(304, 357.9),
         yticks=[315, 330, 345], bins=c_psa_bins, counts=c_psa_counts),
]
style_c = dict(lw=0.9, spine='#4a4a4a', spine_w=0.8, ytick=5.3, xtick=5.2, ylab=6.2,
               xlab=7.5, xlab_off=19, note=10, ticklen=2.2, tickw=0.6,
               ypad=2.0, xpad=3.0, labx=-0.049)
draw_panel(rows_c, 851, 76.4, 63.5, (54, 621), (627, 706), style_c)

for txt, yc in (('(A)', 9), ('(B)', 385), ('(C)', 842)):
    fig.text(0.0, 1 - yc / H, txt, fontsize=14, fontweight='bold',
             family='Liberation Serif', ha='left', va='center')

fig.savefig('out.png', dpi=100)
